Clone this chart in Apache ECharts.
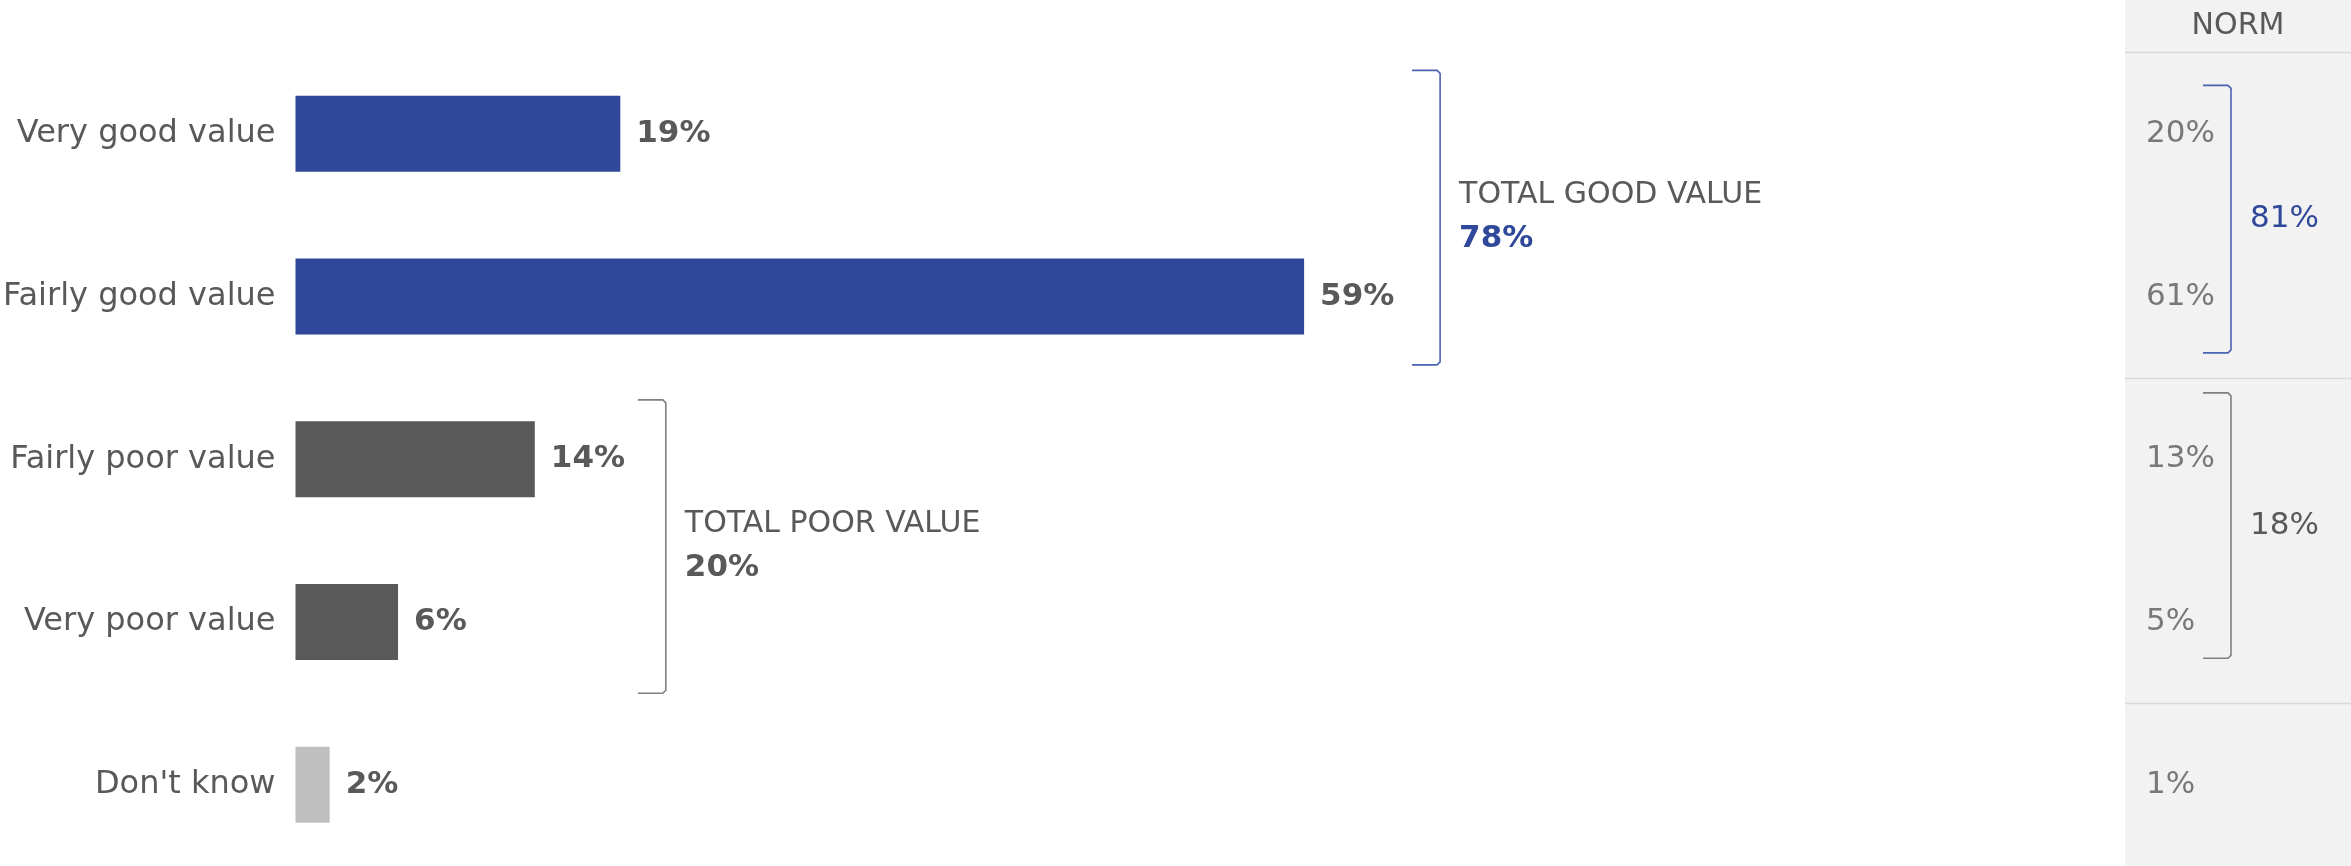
<!DOCTYPE html>
<html>
<head>
<meta charset="utf-8">
<script src="https://cdn.jsdelivr.net/npm/echarts@6/dist/echarts.min.js"></script>
<style>
  html, body { margin: 0; padding: 0; background: #ffffff; }
  #chart { width: 2351px; height: 866px; }
</style>
</head>
<body>
<div id="chart"></div>
<script>
// Survey answers, current wave
const categories = ['Very good value', 'Fairly good value', 'Fairly poor value', 'Very poor value', "Don't know"];
const values = [19, 59, 14, 6, 2];
const barColors = ['#2F4899', '#2F4899', '#595959', '#595959', '#BFBFBF'];

// Norm comparison column
const normValues = [20, 61, 13, 5, 1];
const normHeader = 'NORM';

// Net groups (rows they cover, label, totals)
const groupRows = [[0, 1], [2, 3]];
const groupNames = ['TOTAL GOOD VALUE', 'TOTAL POOR VALUE'];
const groupTotals = [78, 20];
const normTotals = [81, 18];
const groupColors = ['#2F4899', '#595959'];
const bracketColors = ['#4A62B4', '#808080'];

const FONT = '"DejaVu Sans", sans-serif';
const TEXT = '#595959';

const chart = echarts.init(document.getElementById('chart'), null, { renderer: 'canvas' });

chart.setOption({
  animation: false,
  backgroundColor: '#ffffff',
  grid: [
    { left: 295, top: 52.4, width: 1710, height: 816 },
    { left: 2146, top: 52.4, width: 200, height: 816 }
  ],
  xAxis: [
    { type: 'value', gridIndex: 0, min: 0, max: 100, show: false },
    { type: 'value', gridIndex: 1, min: 0, max: 1, show: false }
  ],
  yAxis: [
    {
      type: 'category', gridIndex: 0, data: categories, inverse: true,
      axisLine: { show: false }, axisTick: { show: false }, splitLine: { show: false },
      axisLabel: { margin: 20, color: TEXT, fontSize: 32, fontFamily: FONT }
    },
    { type: 'category', gridIndex: 1, data: categories, inverse: true, show: false }
  ],
  series: [
    {
      type: 'bar',
      xAxisIndex: 0, yAxisIndex: 0,
      barWidth: 76,
      data: values.map((v, i) => ({ value: v, itemStyle: { color: barColors[i] } })),
      label: {
        show: true, position: 'right', distance: 16,
        formatter: '{c}%',
        color: TEXT, fontSize: 31, fontWeight: 'bold', fontFamily: FONT
      }
    },
    {
      type: 'scatter',
      xAxisIndex: 1, yAxisIndex: 1,
      symbolSize: 0,
      data: normValues.map((v, i) => [0, i, v]),
      encode: { x: 0, y: 1 },
      label: {
        show: true, position: 'right', distance: 0,
        formatter: p => p.value[2] + '%',
        color: TEXT, fontSize: 31, fontFamily: FONT
      }
    }
  ]
});

// Annotation layer: norm panel, separators and net brackets, placed from the axis scales
function px(gridIdx, x, row) {
  return chart.convertToPixel({ xAxisIndex: gridIdx, yAxisIndex: gridIdx }, [x, row]);
}

const rowY = categories.map((c, i) => px(0, 0, i)[1]);
const band = rowY[1] - rowY[0];
const bandTop = i => rowY[i] - band / 2;
const bandBottom = i => rowY[i] + band / 2;

const panelLeft = 2125;
const W = chart.getWidth(), H = chart.getHeight();

// bracket padding inside the covered bands [top, bottom]
const mainPad = [[18, 13], [22, 10]];
const normPad = [[33, 25], [15, 45]];
const mainGap = [108, 103];

function bracket(x0, x1, y0, y1, color) {
  return {
    type: 'polyline', silent: true,
    shape: { points: [[x0, y0], [x1 - 3, y0], [x1, y0 + 3], [x1, y1 - 3], [x1 - 3, y1], [x0, y1]] },
    style: { stroke: color, lineWidth: 1.6, fill: null }
  };
}

function text(str, x, y, opts) {
  return {
    type: 'text', silent: true, x: x, y: y,
    style: Object.assign({
      text: str, fill: TEXT, fontSize: 31, fontFamily: FONT,
      textAlign: 'left', textVerticalAlign: 'middle', align: 'left', verticalAlign: 'middle'
    }, opts || {})
  };
}

const elements = [];

// Norm column background and rules
elements.push({
  type: 'rect', silent: true, z: -10,
  shape: { x: panelLeft, y: 0, width: W - panelLeft, height: H },
  style: { fill: '#F2F2F2' }
});
const ruleYs = [bandTop(0), bandBottom(1), bandBottom(3)];
ruleYs.forEach(y => {
  elements.push({
    type: 'line', silent: true,
    shape: { x1: panelLeft, y1: Math.round(y) + 0.5, x2: W, y2: Math.round(y) + 0.5 },
    style: { stroke: '#D9D9D9', lineWidth: 1.5 }
  });
});
elements.push(text(normHeader, (panelLeft + W) / 2, bandTop(0) / 2, {
  textAlign: 'center', align: 'center', fontSize: 30
}));

// Net brackets
groupRows.forEach((rows, g) => {
  const first = rows[0], last = rows[rows.length - 1];
  const maxVal = Math.max(...rows.map(r => values[r]));
  const x0 = px(0, maxVal, first)[0] + mainGap[g];
  const x1 = x0 + 28;
  const y0 = bandTop(first) + mainPad[g][0];
  const y1 = bandBottom(last) - mainPad[g][1];
  elements.push(bracket(x0, x1, y0, y1, bracketColors[g]));
  const mid = (y0 + y1) / 2;
  elements.push(text(groupNames[g], x1 + 19, mid - 22, { fontSize: 30 }));
  elements.push(text(groupTotals[g] + '%', x1 + 19, mid + 21, {
    fontSize: 31, fontWeight: 'bold', fill: groupColors[g]
  }));

  // matching bracket in the norm column
  const nx0 = 2203, nx1 = 2231;
  const ny0 = bandTop(first) + normPad[g][0];
  const ny1 = bandBottom(last) - normPad[g][1];
  elements.push(bracket(nx0, nx1, ny0, ny1, bracketColors[g]));
  elements.push(text(normTotals[g] + '%', nx1 + 19, (ny0 + ny1) / 2, {
    fill: g === 0 ? groupColors[0] : TEXT
  }));
});

chart.setOption({ graphic: { elements: elements } });
</script>
</body>
</html>
